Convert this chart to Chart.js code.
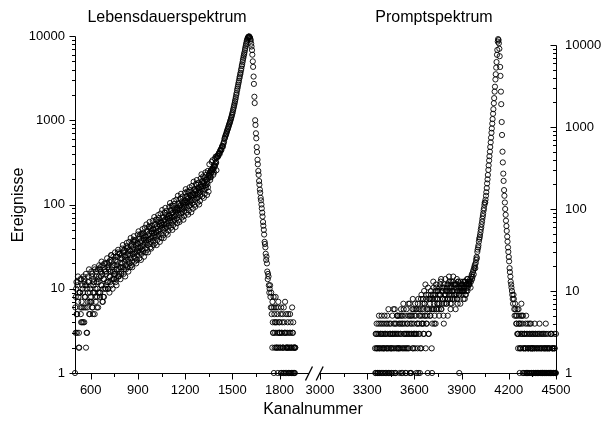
<!DOCTYPE html>
<html>
<head>
<meta charset="utf-8">
<script src="https://cdn.jsdelivr.net/npm/chart.js@4/dist/chart.umd.min.js"></script>
<style>
  html, body { margin: 0; padding: 0; background: #fff; }
  canvas { display: block; }
</style>
</head>
<body>
<canvas id="chart" width="603" height="424"></canvas>
<script>
// Lebensdauerspektrum: Kanal 500 ... 1900, alle 5 Kanaele
const lifeStart = 500, lifeStep = 5;
const lifeCounts = [
  1, 8, 5, 11, 7, 3, 9, 6, 13, 4,
  9, 6, 12, 8, 2, 10, 7, 14, 5, 9,
  11, 7, 15, 9, 12, 5, 10, 16, 8, 13,
  12, 17, 9, 14, 11, 19, 8, 13, 16, 10,
  15, 20, 12, 17, 14, 22, 11, 18, 16, 13,
  19, 15, 24, 17, 21, 14, 26, 18, 20, 16,
  23, 18, 28, 21, 25, 19, 30, 22, 26, 20,
  28, 23, 34, 26, 31, 24, 36, 27, 30, 25,
  34, 28, 41, 31, 37, 29, 43, 33, 38, 30,
  41, 35, 49, 38, 45, 34, 52, 40, 46, 37,
  50, 43, 59, 47, 55, 42, 62, 49, 56, 45,
  61, 53, 71, 58, 66, 52, 75, 60, 68, 56,
  74, 65, 86, 71, 80, 63, 90, 73, 82, 68,
  91, 80, 104, 87, 98, 78, 108, 90, 100, 84,
  112, 98, 126, 106, 120, 96, 130, 110, 122, 103,
  137, 121, 153, 131, 146, 119, 158, 135, 148, 127,
  172, 153, 191, 165, 183, 150, 197, 170, 186, 160,
  220, 238, 212, 256, 245, 270, 262, 295, 288, 320,
  355, 380, 372, 410, 400, 445, 440, 490, 485, 540,
  600, 640, 680, 730, 780, 830, 890, 950, 1020, 1100,
  1200, 1320, 1450, 1600, 1780, 2000, 2250, 2500, 2800, 3150,
  3500, 3900, 4400, 4900, 5500, 6100, 6800, 7600, 8400, 9100,
  9600, 9800, 9700, 9200, 8100, 6800, 5000, 3300, 1900, 1000,
  700, 480, 340, 250, 190, 150, 120, 100, 80, 62,
  50, 36, 31, 22, 20, 13, 14, 9, 11, 6,
  5, 7, 3, 6, 4, 8, 2, 5, 6, 3,
  4, 2, 6, 3, 5, 1, 4, 7, 3, 2,
  3, 5, 2, 1, 4, 2, 6, 3, 1, 2,
  2
];
// Kanal 502 ... 1897
const lifeStartB = 502;
const lifeCountsB = [
  6, 10, 3, 12, 8, 2, 9, 5, 7, 11,
  4, 13, 8, 6, 11, 3, 9, 12, 7, 10,
  8, 14, 6, 11, 9, 17, 7, 12, 10, 6,
  14, 9, 18, 11, 15, 7, 13, 20, 10, 16,
  12, 18, 10, 21, 14, 16, 25, 13, 19, 15,
  16, 22, 13, 19, 27, 17, 15, 23, 18, 25,
  20, 27, 17, 24, 22, 32, 18, 25, 21, 29,
  25, 32, 21, 29, 38, 26, 23, 33, 28, 35,
  31, 39, 27, 35, 45, 32, 28, 40, 35, 42,
  38, 47, 33, 43, 55, 39, 36, 48, 42, 51,
  46, 57, 41, 52, 66, 48, 44, 58, 51, 60,
  57, 69, 50, 64, 80, 58, 54, 70, 63, 73,
  69, 84, 61, 78, 97, 71, 66, 86, 76, 88,
  86, 101, 75, 95, 117, 87, 81, 104, 93, 107,
  105, 123, 92, 116, 142, 106, 99, 127, 113, 131,
  129, 150, 114, 143, 172, 131, 122, 156, 139, 160,
  163, 185, 146, 178, 210, 168, 158, 196, 176, 205,
  228, 218, 250, 240, 262, 258, 285, 280, 305, 312,
  365, 375, 395, 405, 430, 450, 470, 495, 520, 560,
  615, 660, 700, 750, 800, 860, 920, 985, 1060, 1150,
  1250, 1380, 1520, 1690, 1880, 2100, 2370, 2650, 2950, 3300,
  3650, 4100, 4600, 5200, 5800, 6400, 7200, 8000, 8800, 9400,
  9800, 9900, 9500, 8800, 7500, 6000, 4300, 2700, 1600, 880,
  610, 420, 300, 225, 172, 138, 112, 90, 72, 56,
  44, 34, 26, 24, 16, 15, 11, 10, 8, 9,
  6, 4, 8, 5, 3, 6, 4, 2, 7, 4,
  3, 5, 1, 4, 2, 6, 3, 1, 5, 2,
  4, 1, 3, 5, 2, 1, 3, 4, 2, 1
];
// Kanal 504 ... 1399 (Streuung im Ausläufer)
const lifeStartC = 504;
const lifeCountsC = [
  3, 12, 5, 14, 2, 9, 13, 4, 6, 10,
  14, 4, 11, 15, 3, 6, 12, 17, 5, 7,
  16, 6, 5, 13, 18, 8, 14, 6, 17, 9,
  19, 8, 16, 21, 7, 10, 8, 17, 20, 11,
  23, 10, 19, 9, 12, 25, 21, 10, 24, 13,
  27, 12, 11, 24, 29, 14, 26, 13, 15, 30,
  33, 15, 29, 14, 17, 35, 31, 16, 36, 18,
  40, 19, 18, 36, 42, 21, 38, 20, 22, 44,
  48, 23, 44, 22, 26, 51, 46, 24, 53, 27,
  58, 29, 27, 54, 62, 31, 30, 56, 64, 33,
  71, 35, 66, 33, 38, 75, 69, 36, 78, 40,
  86, 43, 40, 80, 91, 46, 84, 44, 49, 94,
  104, 53, 97, 50, 57, 110, 102, 54, 114, 60,
  127, 65, 62, 118, 134, 70, 124, 66, 73, 138,
  152, 80, 143, 76, 85, 160, 148, 81, 166, 89,
  186, 99, 94, 175, 195, 105, 181, 100, 110, 203,
  228, 125, 215, 120, 134, 240, 225, 130, 250, 142,
  300, 195, 210, 320, 335, 225, 240, 350, 370, 255
];
// Kanal 1754 ... 1899
const lifeStartD = 1754;
const lifeCountsD = [
  2, 3, 1, 2, 4, 2, 3, 1, 2, 3,
  2, 1, 3, 2, 2, 1, 3, 2, 1, 2,
  2, 1, 2, 3, 1, 2, 1, 2, 1, 2
];

// Promptspektrum: Kanal 3350 ... 4500, alle 5 Kanaele
const promptStart = 3350, promptStep = 5;
const promptCounts = [
  2, 1, 4, 3, 1, 5, 2, 3, 1, 4,
  3, 2, 5, 1, 4, 2, 3, 6, 1, 3,
  4, 2, 5, 3, 1, 6, 3, 4, 2, 5,
  3, 5, 2, 6, 4, 1, 7, 3, 5, 2,
  6, 3, 5, 2, 7, 4, 1, 5, 8, 3,
  5, 7, 3, 6, 2, 8, 4, 1, 6, 9,
  5, 8, 3, 7, 12, 4, 6, 1, 9, 6,
  7, 10, 2, 8, 13, 6, 9, 4, 11, 7,
  8, 6, 11, 9, 14, 7, 10, 5, 12, 8,
  9, 7, 12, 8, 15, 10, 6, 11, 9, 13,
  10, 8, 12, 9, 14, 7, 11, 1, 10, 13,
  11, 9, 13, 10, 8, 12, 10, 14, 11, 12,
  12, 14, 13, 16, 15, 18, 19, 21, 22, 26,
  30, 34, 40, 45, 52, 60, 70, 82, 96, 112,
  120, 145, 180, 230, 300, 390, 500, 650, 850, 1100,
  1450, 1950, 2700, 3800, 5300, 7600, 11000, 11500, 9000, 5400,
  2700, 1150, 500, 270, 170, 120, 85, 62, 46, 34,
  26, 19, 15, 12, 10, 8, 9, 6, 7, 5,
  4, 6, 3, 5, 2, 4, 7, 3, 5, 1,
  3, 2, 5, 1, 4, 2, 3, 1, 4, 2,
  2, 3, 1, 4, 1, 2, 3, 1, 2, 4,
  1, 3, 2, 1, 3, 1, 2, 4, 1, 2,
  3, 1, 2, 1, 3, 2, 1, 2, 3, 1,
  3
];
// Kanal 3352 ... 4497
const promptStartB = 3352;
const promptCountsB = [
  1, 3, 2, 1, 4, 2, 1, 3, 5, 2,
  1, 4, 2, 3, 1, 5, 2, 1, 4, 3,
  2, 1, 3, 6, 2, 4, 1, 3, 5, 2,
  4, 1, 3, 5, 2, 4, 6, 2, 3, 1,
  2, 4, 7, 3, 1, 5, 3, 6, 2, 4,
  3, 6, 1, 4, 7, 3, 5, 2, 8, 4,
  7, 4, 10, 5, 2, 8, 5, 11, 3, 8,
  5, 9, 1, 6, 11, 4, 8, 12, 6, 10,
  10, 5, 9, 13, 6, 11, 8, 4, 9, 14,
  7, 11, 5, 10, 13, 8, 12, 7, 10, 15,
  9, 12, 6, 11, 8, 13, 9, 12, 7, 11,
  10, 12, 8, 11, 13, 9, 12, 10, 13, 12,
  13, 11, 15, 14, 17, 16, 20, 19, 24, 25,
  32, 36, 43, 48, 56, 65, 76, 88, 102, 120,
  130, 160, 205, 260, 340, 440, 570, 740, 960, 1250,
  1650, 2250, 3100, 4400, 6200, 8700, 11800, 10500, 7300, 4200,
  1900, 800, 370, 220, 145, 100, 72, 54, 40, 30,
  23, 17, 13, 11, 9, 7, 8, 5, 6, 4,
  5, 3, 6, 4, 2, 5, 3, 4, 2, 3,
  2, 4, 1, 3, 2, 1, 4, 2, 3, 1,
  3, 1, 2, 3, 1, 2, 1, 3, 1, 2,
  2, 1, 3, 1, 2, 1, 2, 3, 1, 2,
  1, 2, 1, 3, 1, 2, 1, 1, 2, 1
];
// Kanal 3354 ... 3949
const promptStartC = 3354;
const promptCountsC = [
  3, 2, 1, 2, 3, 1, 4, 2, 3, 1,
  2, 3, 1, 3, 2, 4, 1, 2, 3, 2,
  1, 3, 2, 4, 3, 1, 2, 5, 3, 2,
  2, 4, 3, 1, 5, 2, 3, 4, 1, 3,
  4, 2, 3, 5, 1, 3, 4, 2, 6, 3,
  2, 5, 3, 4, 1, 6, 3, 5, 2, 4,
  6, 3, 7, 5, 9, 4, 6, 3, 8, 5,
  8, 6, 4, 9, 7, 5, 10, 6, 8, 7,
  9, 7, 12, 6, 10, 8, 11, 7, 9, 10,
  10, 8, 12, 9, 11, 7, 13, 10, 8, 12,
  11, 9, 12, 8, 10, 13, 9, 11, 10, 12,
  12, 10, 11, 13, 9, 12, 11, 14, 12, 13
];
// Kanal 4254 ... 4499
const promptStartD = 4254;
const promptCountsD = [
  3, 2, 4, 1, 3, 2, 5, 1, 2, 3,
  1, 2, 3, 1, 2, 1, 3, 2, 1, 2,
  2, 1, 2, 3, 1, 1, 2, 1, 3, 1,
  1, 2, 1, 1, 2, 3, 1, 2, 1, 1,
  2, 1, 1, 3, 1, 2, 1, 2, 1, 1
];

const xTicksLeft = [600, 900, 1200, 1500, 1800];
const xTicksRight = [3000, 3300, 3600, 3900, 4200, 4500];
const xMinorTicks = [750, 1050, 1350, 1650, 3150, 3450, 3750, 4050, 4350];
const yTicks = [1, 10, 100, 1000, 10000];

// gebrochene x-Achse: 1990 ... 3000 wird auf eine kleine Luecke gestaucht
const breakAt = 1990, gap = 67, resumeAt = 3000;
const shift = resumeAt - (breakAt + gap);
const toAxis = ch => ch >= resumeAt ? ch - shift : ch;
const toChannel = v => v > breakAt ? v + shift : v;

const points = (counts, start, step) => counts.map((c, i) => ({ x: toAxis(start + i * step), y: c }));
const lifeData = [
  ...points(lifeCounts, lifeStart, lifeStep),
  ...points(lifeCountsB, lifeStartB, lifeStep),
  ...points(lifeCountsC, lifeStartC, lifeStep),
  ...points(lifeCountsD, lifeStartD, lifeStep)
];
const promptData = [
  ...points(promptCounts, promptStart, promptStep),
  ...points(promptCountsB, promptStartB, promptStep),
  ...points(promptCountsC, promptStartC, promptStep),
  ...points(promptCountsD, promptStartD, promptStep)
];

const FONT = '"Liberation Sans", Arial, sans-serif';

const frame = {
  id: 'frame',
  afterDraw(chart) {
    const { ctx, chartArea: a, scales: { x, y, y2 } } = chart;
    ctx.save();
    ctx.strokeStyle = '#000';
    ctx.fillStyle = '#000';
    ctx.lineWidth = 1;

    const L = Math.round(a.left) + 0.5, R = Math.round(a.right) + 0.5, B = Math.round(a.bottom) + 0.5;
    const line = (x1, y1, x2, y2_) => { ctx.beginPath(); ctx.moveTo(x1, y1); ctx.lineTo(x2, y2_); ctx.stroke(); };

    // linke y-Achse, Striche nach aussen
    line(L, Math.round(y.getPixelForValue(10000)) + 0.5, L, B);
    // rechte y-Achse, Striche nach innen
    line(R, Math.round(y2.getPixelForValue(10000)) + 0.5, R, B);
    for (let d = 1; d <= 10000; d *= 10) {
      for (let m = 1; m <= 9; m++) {
        const v = d * m;
        if (v > 10000) break;
        const len = m === 1 ? 6 : 3.5;
        const py = Math.round(y.getPixelForValue(v)) + 0.5;
        line(L - len, py, L, py);
        const py2 = Math.round(y2.getPixelForValue(v)) + 0.5;
        line(R - len, py2, R, py2);
      }
    }

    // x-Achse mit Bruch
    const b1 = x.getPixelForValue(breakAt - 3), b2 = x.getPixelForValue(toAxis(resumeAt) - 2);
    line(L, B, b1, B);
    line(b2, B, R, B);
    [...xTicksLeft, ...xTicksRight].forEach(c => {
      const px = Math.round(x.getPixelForValue(toAxis(c))) + 0.5;
      line(px, B, px, B + 6);
    });
    xMinorTicks.forEach(c => {
      const px = Math.round(x.getPixelForValue(toAxis(c))) + 0.5;
      line(px, B, px, B + 3.5);
    });
    ctx.lineWidth = 1.3;
    [b1, b2].forEach(px => line(px - 3.5, B + 7, px + 3.5, B - 7));

    // Beschriftungen
    ctx.font = '16px ' + FONT;
    ctx.textAlign = 'center';
    ctx.textBaseline = 'middle';
    ctx.fillText('Lebensdauerspektrum', 167, 18);
    ctx.fillText('Promptspektrum', 434, 18);
    ctx.fillText('Kanalnummer', 313, 410);
    ctx.translate(19, 205);
    ctx.rotate(-Math.PI / 2);
    ctx.fillText('Ereignisse', 0, 0);
    ctx.restore();
  }
};

const tickFont = { family: FONT, size: 13 };
const markerStyle = {
  showLine: false,
  pointStyle: 'circle',
  pointRadius: 2.6,
  pointBorderWidth: 0.9,
  pointBorderColor: '#000',
  pointBackgroundColor: 'rgba(0,0,0,0)',
  clip: false
};

new Chart(document.getElementById('chart'), {
  type: 'scatter',
  data: {
    datasets: [
      { label: 'Lebensdauerspektrum', data: lifeData, yAxisID: 'y', ...markerStyle },
      { label: 'Promptspektrum', data: promptData, yAxisID: 'y2', ...markerStyle }
    ]
  },
  options: {
    responsive: false,
    animation: false,
    devicePixelRatio: 1,
    layout: { padding: { top: 36, left: 0, right: 0, bottom: 0 } },
    plugins: { legend: { display: false }, tooltip: { enabled: false } },
    scales: {
      x: {
        type: 'linear',
        min: 500,
        max: toAxis(4500),
        grid: { display: false, drawTicks: false },
        border: { display: false },
        afterBuildTicks: s => { s.ticks = [...xTicksLeft, ...xTicksRight].map(c => ({ value: toAxis(c) })); },
        ticks: {
          autoSkip: false, maxRotation: 0, padding: 10, color: '#000', font: tickFont,
          callback: v => String(Math.round(toChannel(v)))
        },
        afterFit: s => { s.height = 51; }
      },
      y: {
        type: 'logarithmic',
        position: 'left',
        min: 1,
        max: 10000,
        grid: { display: false, drawTicks: false },
        border: { display: false },
        afterBuildTicks: s => { s.ticks = yTicks.map(v => ({ value: v })); },
        ticks: { padding: 10, color: '#000', font: tickFont, callback: v => String(v) },
        afterFit: s => { s.width = 75; }
      },
      y2: {
        type: 'logarithmic',
        position: 'right',
        min: 1,
        max: 12877,
        grid: { display: false, drawTicks: false },
        border: { display: false },
        afterBuildTicks: s => { s.ticks = yTicks.map(v => ({ value: v })); },
        ticks: { padding: 9, color: '#000', font: tickFont, callback: v => String(v) },
        afterFit: s => { s.width = 47; }
      }
    }
  },
  plugins: [frame]
});
</script>
</body>
</html>
